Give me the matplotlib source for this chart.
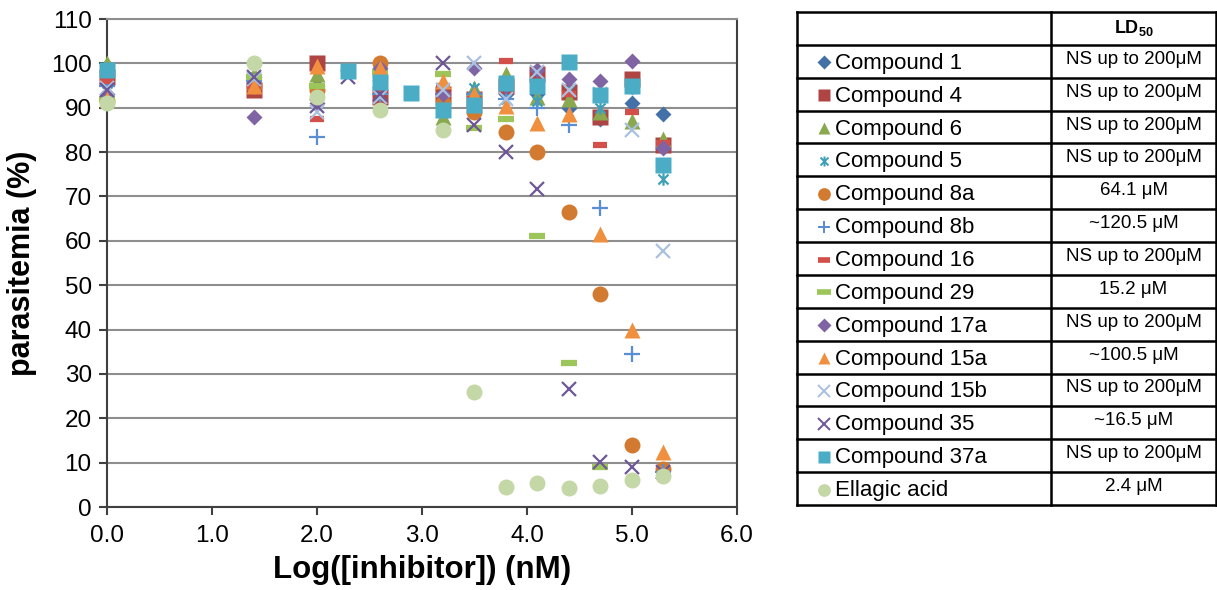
import numpy as np
import matplotlib
matplotlib.use("Agg")
import matplotlib.pyplot as plt
from matplotlib.path import Path

plt.rcParams['font.family'] = ['Liberation Sans', 'DejaVu Sans']
plt.rcParams['mathtext.fontset'] = 'custom'
plt.rcParams['mathtext.rm'] = 'Liberation Sans'
plt.rcParams['mathtext.bf'] = 'Liberation Sans:bold'

nan = np.nan
log_conc = [0.0, 1.4, 2.0, 2.3, 2.6, 2.9, 3.2, 3.5, 3.8, 4.1, 4.4, 4.7, 5.0, 5.3]

c1   = [99.5, 97, 95, nan, 97, nan, 94, 93, 93, 93, 90, 87.5, 91, 88.5]
c4   = [97, 94, 100, nan, 92.5, nan, 93, 92, 95, 97.5, 93.5, 88, 96.5, 81.5]
c6   = [100, 97.5, 97.5, nan, 98, nan, 88, 94.5, 97.5, 92.5, 92, 89, 87, 83]
c5   = [95.5, 96, 94, nan, 96, nan, 92, 94.5, 92, 91.5, 94, 90, 94.5, 74]
c8a  = [91.5, 95, 94, nan, 100, nan, 91, 89, 84.5, 80, 66.5, 48, 14, 8.5]
c8b  = [95, 96, 83.5, nan, 93, nan, 93, 93, 92, 90, 86, 67.3, 34.5, 8]
c16  = [96, 95, 87.5, nan, 94, nan, 95, 92, 100.5, 95, 93, 81.5, 89, 82]
c29  = [92, 97, 95, nan, 98, nan, 97.5, 85.5, 87.5, 61, 32.5, 9, nan, nan]
c17a = [93, 88, 91, nan, 99, nan, 93, 99, 95, 98.5, 96.5, 96, 100.5, 81]
c15a = [92, 95, 99.5, nan, 99, nan, 96, 93, 90.5, 86.5, 88.5, 61.5, 40, 12.3]
c15b = [94.5, 96.5, 89, nan, 92.5, nan, 94, 100, 92, 98, 94, 93, 85, 57.7]
c35  = [94, 97, 90.5, 97, 93, nan, 100, 86, 80, 71.7, 26.6, 10.1, 9, 8]
c37a = [98.5, nan, nan, 98.2, 95.8, 93.3, 89.5, 90.6, 95.5, 95, 100.3, 92.8, 95, 77]
ellagic = [91, 100, 92.5, nan, 89.5, nan, 85, 26, 4.5, 5.5, 4.2, 4.8, 6, 7]

names = ["Compound 1", "Compound 4", "Compound 6", "Compound 5", "Compound 8a",
         "Compound 8b", "Compound 16", "Compound 29", "Compound 17a", "Compound 15a",
         "Compound 15b", "Compound 35", "Compound 37a", "Ellagic acid"]
ld50 = ["NS up to 200μM", "NS up to 200μM", "NS up to 200μM", "NS up to 200μM",
        "64.1 μM", "~120.5 μM", "NS up to 200μM", "15.2 μM", "NS up to 200μM",
        "~100.5 μM", "NS up to 200μM", "~16.5 μM", "NS up to 200μM", "2.4 μM"]
series = [c1, c4, c6, c5, c8a, c8b, c16, c29, c17a, c15a, c15b, c35, c37a, ellagic]

asterisk = Path([(-1, -1), (1, 1), (-1, 1), (1, -1), (0, -1.25), (0, 1.25)],
                [Path.MOVETO, Path.LINETO, Path.MOVETO, Path.LINETO, Path.MOVETO, Path.LINETO])

# marker, size, color, filled, edge width
styles = [
    ('D', 8.5, '#4470A8', True, 0),
    ('s', 11, '#AE4543', True, 0),
    ('^', 11, '#8AA84E', True, 0),
    (asterisk, 9, '#3E9FB8', False, 1.6),
    ('o', 11.5, '#D27A30', True, 0),
    ('+', 11, '#5B8FD3', False, 1.6),
    ('_', 10, '#D24F4A', False, 4.5),
    ('_', 12, '#9CC65A', False, 4.5),
    ('D', 8.5, '#7F63A3', True, 0),
    ('^', 11, '#F0903F', True, 0),
    ('x', 10, '#A9C1DF', False, 1.6),
    ('x', 10, '#6E5896', False, 1.6),
    ('s', 11, '#4BACC6', True, 0),
    ('o', 11.5, '#C4D7A7', True, 0),
]

W, H = 1217, 590
fig = plt.figure(figsize=(W / 100, H / 100), dpi=100)
ax = fig.add_axes([107 / W, (H - 507) / H, 630 / W, 488 / H])

for vals, (m, ms, col, filled, ew) in zip(series, styles):
    if filled:
        ax.plot(log_conc, vals, linestyle='none', marker=m, markersize=ms,
                markerfacecolor=col, markeredgecolor='none', zorder=3, clip_on=False)
    else:
        ax.plot(log_conc, vals, linestyle='none', marker=m, markersize=ms,
                markerfacecolor='none', markeredgecolor=col, markeredgewidth=ew,
                zorder=3, clip_on=False)

ax.set_xlim(0, 6)
ax.set_ylim(0, 110)
ax.set_xticks(np.arange(0, 6.1, 1.0))
ax.set_xticklabels([f"{v:.1f}" for v in np.arange(0, 6.1, 1.0)])
ax.set_yticks(np.arange(0, 111, 10))
ax.yaxis.grid(True, color='#8E8E8E', linewidth=1.5)
ax.set_axisbelow(True)
for s in ['left', 'bottom', 'right']:
    ax.spines[s].set_color('#404040')
    ax.spines[s].set_linewidth(1.5)
ax.spines['top'].set_color('#8E8E8E')
ax.spines['top'].set_linewidth(1.5)
ax.tick_params(axis='both', direction='out', length=6, width=1.5, color='#404040',
               labelsize=17.5, pad=4)
ax.tick_params(axis='y', pad=5)
ax.tick_params(axis='x', pad=7)
ax.set_xlabel("Log([inhibitor]) (nM)", fontsize=22.5, fontweight='bold', labelpad=6)
ax.set_ylabel("parasitemia (%)", fontsize=22, fontweight='bold', labelpad=10)

# Table
tx0, tx1, tmid = 797, 1216, 1051
ty0, ty1 = 12, 505
tab = fig.add_axes([0, 0, 1, 1])
tab.set_xlim(0, W)
tab.set_ylim(H, 0)
tab.axis('off')
nrows = len(names) + 1
rowh = (ty1 - ty0) / nrows
lw = 1.8
for i in range(nrows + 1):
    y = ty0 + i * rowh
    tab.plot([tx0, tx1], [y, y], color='black', linewidth=lw, clip_on=False)
for x in (tx0, tmid, tx1):
    tab.plot([x, x], [ty0, ty1], color='black', linewidth=lw, clip_on=False)

tab.text((tmid + tx1) / 2, ty0 + rowh / 2, r"$\mathbf{LD_{50}}$", ha='center', va='center',
         fontsize=13)
for i, (nm, ld, (m, ms, col, filled, ew)) in enumerate(zip(names, ld50, styles)):
    yc = ty0 + (i + 1) * rowh + rowh / 2
    if filled:
        tab.plot([824], [yc + 1], linestyle='none', marker=m, markersize=ms * 0.8,
                 markerfacecolor=col, markeredgecolor='none', clip_on=False)
    else:
        tab.plot([824], [yc + 1], linestyle='none', marker=m, markersize=ms * 0.8,
                 markerfacecolor='none', markeredgecolor=col, markeredgewidth=ew * 0.9,
                 clip_on=False)
    tab.text(835, yc + 2, nm, ha='left', va='center', fontsize=16)
    tab.text((tmid + tx1) / 2, yc - 2, ld, ha='center', va='center', fontsize=13.5)

fig.savefig("out.png", dpi=100)
